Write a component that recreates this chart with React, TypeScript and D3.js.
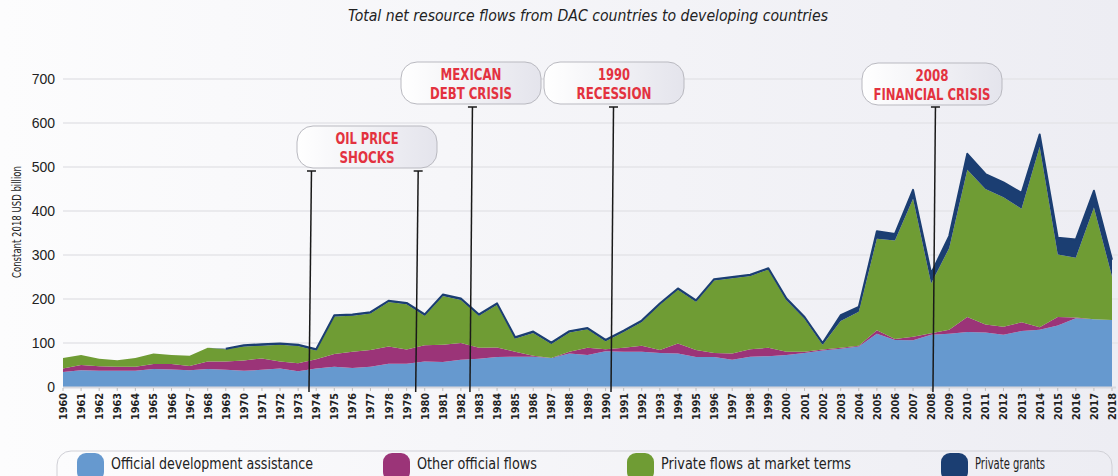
import * as d3 from "d3";
import { useEffect, useRef } from "react";

// years 1960-2018
const years = d3.range(1960, 2019);

// USD billion
const oda = [
  34, 38, 37, 37, 37, 41, 40, 38, 41, 39, 37, 39, 42, 36, 42, 46, 43, 46, 53, 53,
  58, 57, 62, 64, 68, 69, 69, 66, 76, 73, 81, 80, 80, 77, 76, 68, 68, 62, 69, 70,
  73, 77, 83, 87, 92, 121, 107, 106, 119, 121, 125, 124, 119, 127, 130, 140, 156, 154, 152,
];
const oof = [
  8, 12, 10, 9, 9, 11, 12, 10, 17, 19, 23, 26, 16, 18, 21, 29, 37, 38, 39, 32,
  37, 39, 38, 25, 22, 11, 2, 0, 4, 16, 5, 9, 14, 7, 23, 16, 9, 14, 17, 19,
  7, 3, 2, 2, 2, 8, 2, 8, 3, 9, 34, 18, 18, 20, 6, 19, 2, 0, 0,
];
const privateMarket = [
  24, 23, 17, 15, 20, 24, 21, 23, 31, 28, 32, 29, 38, 39, 20, 85, 82, 83, 101, 103,
  67, 111, 98, 73, 97, 30, 52, 32, 44, 42, 18, 36, 54, 103, 122, 110, 165, 171, 166, 178,
  117, 75, 11, 61, 77, 208, 224, 314, 113, 186, 335, 308, 294, 258, 410, 142, 136, 254, 99,
];
const privateGrants = [
  0, 0, 0, 0, 0, 0, 0, 0, 0, 1, 3, 3, 3, 3, 3, 3, 3, 3, 3, 3,
  3, 3, 3, 3, 3, 3, 3, 3, 3, 3, 3, 3, 3, 3, 3, 3, 3, 3, 3, 3,
  4, 4, 4, 13, 11, 17, 15, 20, 23, 27, 36, 34, 34, 36, 28, 38, 41, 38, 38,
];

const yTicks = [0, 100, 200, 300, 400, 500, 600, 700];

const seriesKeys = ["oda", "oof", "priv", "grants"];
const seriesNames = [
  "Official development assistance",
  "Other official flows",
  "Private flows at market terms",
  "Private grants",
];
const seriesColors = ["#6699cf", "#9b3478", "#6f9c34", "#1b3e72"];

// annotation boxes: label lines, year where the pin lands
const events = [
  { lines: ["OIL PRICE", "SHOCKS"], pins: [1973.6, 1979.5] },
  { lines: ["MEXICAN", "DEBT CRISIS"], pins: [1982.5] },
  { lines: ["1990", "RECESSION"], pins: [1990.3] },
  { lines: ["2008", "FINANCIAL CRISIS"], pins: [2008.1] },
];

const width = 1118;
const height = 476;
const margin = { top: 80, right: 6, bottom: 89, left: 63 };
const narrow = "'Liberation Sans Narrow', 'DejaVu Sans Condensed', 'Noto Sans', sans-serif";

export default function App() {
  const ref = useRef<SVGSVGElement>(null);

  useEffect(() => {
    if (!ref.current) return;
    const svg = d3.select(ref.current);
    svg.selectAll("*").remove();

    const defs = svg.append("defs");
    const bg = defs.append("linearGradient").attr("id", "bg");
    bg.append("stop").attr("offset", "0%").attr("stop-color", "#fcfcfd");
    bg.append("stop").attr("offset", "100%").attr("stop-color", "#ededf3");
    const pill = defs.append("linearGradient").attr("id", "pill");
    pill.append("stop").attr("offset", "0%").attr("stop-color", "#ffffff");
    pill.append("stop").attr("offset", "100%").attr("stop-color", "#e4e4ec");

    svg.append("rect").attr("width", width).attr("height", height).attr("fill", "url(#bg)");

    const x = d3
      .scaleLinear()
      .domain([1960, 2018])
      .range([margin.left, width - margin.right]);
    const y = d3
      .scaleLinear()
      .domain([0, 700])
      .range([height - margin.bottom, height - margin.bottom - 308]);

    // title
    svg
      .append("text")
      .attr("x", 588)
      .attr("y", 21)
      .attr("text-anchor", "middle")
      .attr("font-family", narrow)
      .attr("font-style", "italic")
      .attr("font-size", 16)
      .attr("fill", "#222")
      .attr("textLength", 480)
      .attr("lengthAdjust", "spacingAndGlyphs")
      .text("Total net resource flows from DAC countries to developing countries");

    // grid + y labels
    const grid = svg.append("g");
    grid
      .selectAll("line")
      .data(yTicks.slice(1))
      .join("line")
      .attr("x1", margin.left)
      .attr("x2", width)
      .attr("y1", (d) => y(d))
      .attr("y2", (d) => y(d))
      .attr("stroke", "#e4e4e8")
      .attr("stroke-width", 1.5);
    grid
      .selectAll("text")
      .data(yTicks)
      .join("text")
      .attr("x", 55)
      .attr("y", (d) => y(d) + 5)
      .attr("text-anchor", "end")
      .attr("font-family", "'Liberation Sans', Arial, sans-serif")
      .attr("font-size", 14)
      .attr("fill", "#222")
      .text((d) => d);

    svg
      .append("text")
      .attr("transform", `translate(21,222) rotate(-90)`)
      .attr("text-anchor", "middle")
      .attr("font-family", narrow)
      .attr("font-size", 12.5)
      .attr("fill", "#222")
      .attr("textLength", 112)
      .attr("lengthAdjust", "spacingAndGlyphs")
      .text("Constant 2018 USD billion");

    // stacked areas
    const table = years.map((yr, i) => ({
      year: yr,
      oda: oda[i],
      oof: oof[i],
      priv: privateMarket[i],
      grants: privateGrants[i],
    }));
    const stacked = d3.stack<any>().keys(seriesKeys)(table);
    const area = d3
      .area<any>()
      .x((d) => x(d.data.year))
      .y0((d) => y(d[0]))
      .y1((d) => y(d[1]));

    svg
      .append("g")
      .selectAll("path")
      .data(stacked)
      .join("path")
      .attr("d", area)
      .attr("fill", (_, i) => seriesColors[i]);

    const top = stacked[3];
    svg
      .append("path")
      .datum(top)
      .attr(
        "d",
        d3
          .line<any>()
          .defined((d) => d.data.grants > 0)
          .x((d) => x(d.data.year))
          .y((d) => y(d[1]))
      )
      .attr("fill", "none")
      .attr("stroke", seriesColors[3])
      .attr("stroke-width", 2)
      .attr("stroke-linejoin", "round");

    // x axis
    const base = y(0);
    svg
      .append("line")
      .attr("x1", margin.left)
      .attr("x2", width - 2)
      .attr("y1", base + 0.5)
      .attr("y2", base + 0.5)
      .attr("stroke", "#d8d8de")
      .attr("stroke-width", 2);
    const xa = svg.append("g");
    xa.selectAll("line")
      .data(years)
      .join("line")
      .attr("x1", (d) => x(d))
      .attr("x2", (d) => x(d))
      .attr("y1", base + 1)
      .attr("y2", base + 4)
      .attr("stroke", "#bbb");
    xa.selectAll("text")
      .data(years)
      .join("text")
      .attr("transform", (d) => `translate(${x(d) + 4},${base + 6}) rotate(-90)`)
      .attr("text-anchor", "end")
      .attr("font-family", narrow)
      .attr("font-weight", "bold")
      .attr("font-size", 11)
      .attr("fill", "#222")
      .attr("textLength", 27)
      .attr("lengthAdjust", "spacingAndGlyphs")
      .text((d) => d);

    // event annotations
    const boxes = [
      { x: 297, y: 126, pinTop: 171, tw: [63, 55] },
      { x: 401, y: 62, pinTop: 107, tw: [61, 82] },
      { x: 544, y: 62, pinTop: 107, tw: [32, 75] },
      { x: 862, y: 63, pinTop: 107, tw: [33, 117] },
    ];
    events.forEach((ev, i) => {
      const b = boxes[i];
      const g = svg.append("g");
      ev.pins.forEach((p) => {
        const px = x(p);
        g.append("line")
          .attr("x1", px + 2.5)
          .attr("x2", px)
          .attr("y1", b.pinTop)
          .attr("y2", base + 5)
          .attr("stroke", "#1a1a1a")
          .attr("stroke-width", 1.5);
        g.append("line")
          .attr("x1", px - 2)
          .attr("x2", px + 7)
          .attr("y1", b.pinTop)
          .attr("y2", b.pinTop)
          .attr("stroke", "#1a1a1a")
          .attr("stroke-width", 1.5);
      });
      g.append("rect")
        .attr("x", b.x)
        .attr("y", b.y)
        .attr("width", 140)
        .attr("height", 42)
        .attr("rx", 16)
        .attr("fill", "url(#pill)")
        .attr("stroke", "#b9b9c0");
      ev.lines.forEach((t, j) => {
        g.append("text")
          .attr("x", b.x + 70)
          .attr("y", b.y + 18 + j * 19)
          .attr("text-anchor", "middle")
          .attr("font-family", narrow)
          .attr("font-weight", "bold")
          .attr("font-size", 16)
          .attr("fill", "#e3323f")
          .attr("textLength", b.tw[j])
          .attr("lengthAdjust", "spacingAndGlyphs")
          .text(t);
      });
    });

    // legend
    svg
      .append("rect")
      .attr("x", 57)
      .attr("y", 451)
      .attr("width", 1055)
      .attr("height", 50)
      .attr("rx", 14)
      .attr("fill", "url(#bg)")
      .attr("stroke", "#d0d0d6");
    const legendX = [77, 383, 627, 941];
    const legendW = [202, 120, 190, 70];
    const lg = svg
      .append("g")
      .selectAll("g")
      .data(seriesNames)
      .join("g")
      .attr("transform", (_, i) => `translate(${legendX[i]},453)`);
    lg.append("rect")
      .attr("width", 27)
      .attr("height", 28)
      .attr("rx", 9)
      .attr("fill", (_, i) => seriesColors[i]);
    lg.append("text")
      .attr("x", 34)
      .attr("y", 16)
      .attr("font-family", narrow)
      .attr("font-size", 15)
      .attr("fill", "#222")
      .attr("textLength", (_, i) => legendW[i])
      .attr("lengthAdjust", "spacingAndGlyphs")
      .text((d) => d);

    return () => {
      svg.selectAll("*").remove();
    };
  }, []);

  return (
    <svg
      ref={ref}
      width={width}
      height={height}
      style={{ position: "absolute", left: 0, top: 0, display: "block" }}
    />
  );
}
